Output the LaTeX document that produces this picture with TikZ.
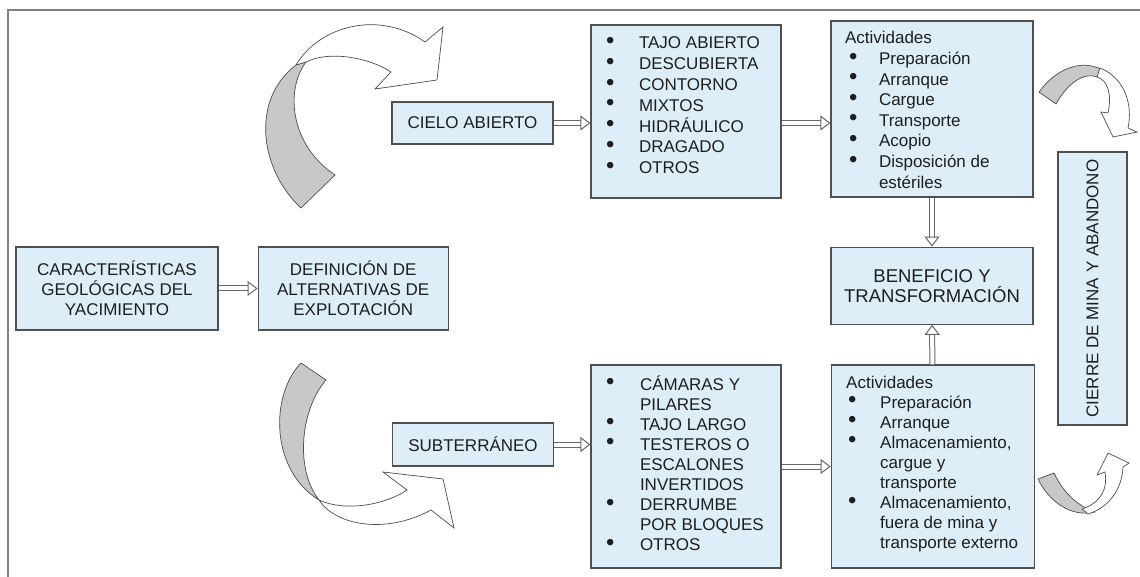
\documentclass[tikz,border=0pt]{standalone}
\usepackage{fontspec}
\setmainfont{Liberation Sans}
\usetikzlibrary{arrows.meta}
\usetikzlibrary{positioning}

\definecolor{boxblue}{RGB}{222,238,248}
\definecolor{boxline}{RGB}{80,80,80}
\definecolor{txtgray}{RGB}{30,30,30}
\definecolor{bandgray}{RGB}{200,200,200}

\newlength{\bulletskip}
\newlength{\itemskip}
\newcommand{\bitem}[1]{\par\hangindent=\itemskip\hangafter=1\makebox[\itemskip][l]{\hspace{\bulletskip}\raisebox{0.5pt}{\scalebox{1.4}{\textbullet}}}\rule{0pt}{15pt}#1}
\newcommand{\listbody}[5]{\parbox[t][#2][t]{#1}{\fontsize{17}{#3}\selectfont\raggedright\vspace*{#4}#5}}

\begin{document}
\begin{tikzpicture}[x=1pt, y=-1pt]
    \tikzset{
      box/.style={draw=boxline, line width=1.2pt, fill=boxblue, text=txtgray,
        inner sep=0pt, align=center, font=\fontsize{17}{20}\selectfont},
      flow/.style={draw=gray!80!black, line width=1pt, double=white,
        double distance=4pt,
        -{Triangle[open, length=10pt, width=15pt, line width=1pt]}},
      band/.style={fill=bandgray, draw=gray!60!black, line width=0.7pt},
      flap/.style={fill=white, draw=gray!60!black, line width=0.7pt},
      frame/.style={draw=gray, line width=1.5pt},
    }
    \useasboundingbox (0,0) rectangle (1140,577);
    \clip (0,0) rectangle (1140,577);
    \draw[frame] (8,10) rectangle (1200,620);

    \node[box, minimum width=202pt, minimum height=83pt] (caract) at (117,288.5)
      {CARACTERÍSTICAS\\GEOLÓGICAS DEL\\YACIMIENTO};
    \node[box, minimum width=190pt, minimum height=83pt, right=39pt of caract] (defin)
      {DEFINICIÓN DE\\ALTERNATIVAS DE\\EXPLOTACIÓN};
    \node[box, minimum width=161pt, minimum height=42pt] (cielo) at (472.5,123) {CIELO ABIERTO};
    \node[box, minimum width=161pt, minimum height=43pt] (subte) at (473,444.5) {SUBTERRÁNEO};

    \node[box] (listA) at (686,111.5) {\setlength{\bulletskip}{15pt}\setlength{\itemskip}{48pt}%
      \listbody{190pt}{173pt}{20.8pt}{9pt}{%
        \bitem{TAJO ABIERTO}\bitem{DESCUBIERTA}\bitem{CONTORNO}\bitem{MIXTOS}%
        \bitem{HIDRÁULICO}\bitem{DRAGADO}\bitem{OTROS}}};
    \node[box] (actA) at (932,109) {\setlength{\bulletskip}{18pt}\setlength{\itemskip}{48pt}%
      \listbody{202pt}{176pt}{20.6pt}{8pt}{%
        \hspace*{14pt}\rule{0pt}{15pt}Actividades%
        \bitem{Preparación}\bitem{Arranque}\bitem{Cargue}\bitem{Transporte}%
        \bitem{Acopio}\bitem{Disposición de\newline estériles}}};
    \node[box, minimum width=202pt, minimum height=77pt, below=49pt of actA,
      font=\fontsize{18.5}{20}\selectfont] (benef) {BENEFICIO Y\\TRANSFORMACIÓN};

    \node[box] (listB) at (686,466.5) {\setlength{\bulletskip}{15pt}\setlength{\itemskip}{49pt}%
      \listbody{190pt}{203pt}{20.1pt}{10pt}{%
        \bitem{CÁMARAS Y\newline PILARES}\bitem{TAJO LARGO}%
        \bitem{TESTEROS O\newline ESCALONES\newline INVERTIDOS}%
        \bitem{DERRUMBE\newline POR BLOQUES}\bitem{OTROS}}};
    \node[box, right=49pt of listB] (actB) {\setlength{\bulletskip}{17pt}\setlength{\itemskip}{49pt}%
      \listbody{203pt}{203pt}{20.1pt}{8pt}{%
        \hspace*{15pt}\rule{0pt}{15pt}Actividades%
        \bitem{Preparación}\bitem{Arranque}%
        \bitem{Almacenamiento,\newline cargue y\newline transporte}%
        \bitem{Almacenamiento,\newline fuera de mina y\newline transporte externo}}};

    \node[box, rotate=90, minimum width=273pt, minimum height=69pt] (cierre) at (1092.5,288.5)
      {CIERRE DE MINA Y ABANDONO};

    \draw[flow] (caract) -- (defin);
    \draw[flow] (cielo) -- (cielo -| listA.west);
    \draw[flow] (listA.east |- cielo) -- (actA.west |- cielo);
    \draw[flow] (actA) -- (benef);
    \draw[flow] (actB) -- (benef);
    \draw[flow] (subte) -- (subte -| listB.west);
    \draw[flow] (listB) -- (actB);

    % curved ribbons
    \filldraw[band] (301,208) .. controls (260,170) and (250,100) .. (296,65)
      -- (306,62) .. controls (285,90) and (290,145) .. (335,175) -- cycle;
    \filldraw[flap] (296,65) .. controls (320,25) and (380,10) .. (425,42)
      -- (443,27) -- (437,80) -- (375,89) -- (391,72)
      .. controls (370,58) and (330,50) .. (306,62) -- cycle;

    \filldraw[band] (301,363) -- (326,380) .. controls (300,410) and (295,470) .. (319,500)
      .. controls (270,470) and (270,395) .. (301,363) -- cycle;
    \filldraw[flap] (319,500) .. controls (335,525) and (385,535) .. (431,510)
      -- (454,528) -- (443,479) -- (383,472) -- (407,490)
      .. controls (385,505) and (345,512) .. (319,500) -- cycle;

    \filldraw[band] (1039,92) .. controls (1055,70) and (1080,58) .. (1103,70)
      -- (1097,77) .. controls (1085,72) and (1068,82) .. (1056,104) -- cycle;
    \filldraw[flap] (1100,68) .. controls (1125,78) and (1133,105) .. (1128,128)
      -- (1137,132) -- (1113,137) -- (1101,112) -- (1108,113)
      .. controls (1112,95) and (1108,80) .. (1097,77) -- cycle;

    \filldraw[band] (1038,479) .. controls (1048,500) and (1070,518) .. (1095,512)
      .. controls (1075,505) and (1062,490) .. (1054,473) -- cycle;
    \filldraw[flap] (1088,514) .. controls (1108,508) and (1122,490) .. (1123,467)
      -- (1129,463) -- (1108,453) -- (1097,475) -- (1105,472)
      .. controls (1108,490) and (1100,503) .. (1082,509) -- cycle;
\end{tikzpicture}
\end{document}
